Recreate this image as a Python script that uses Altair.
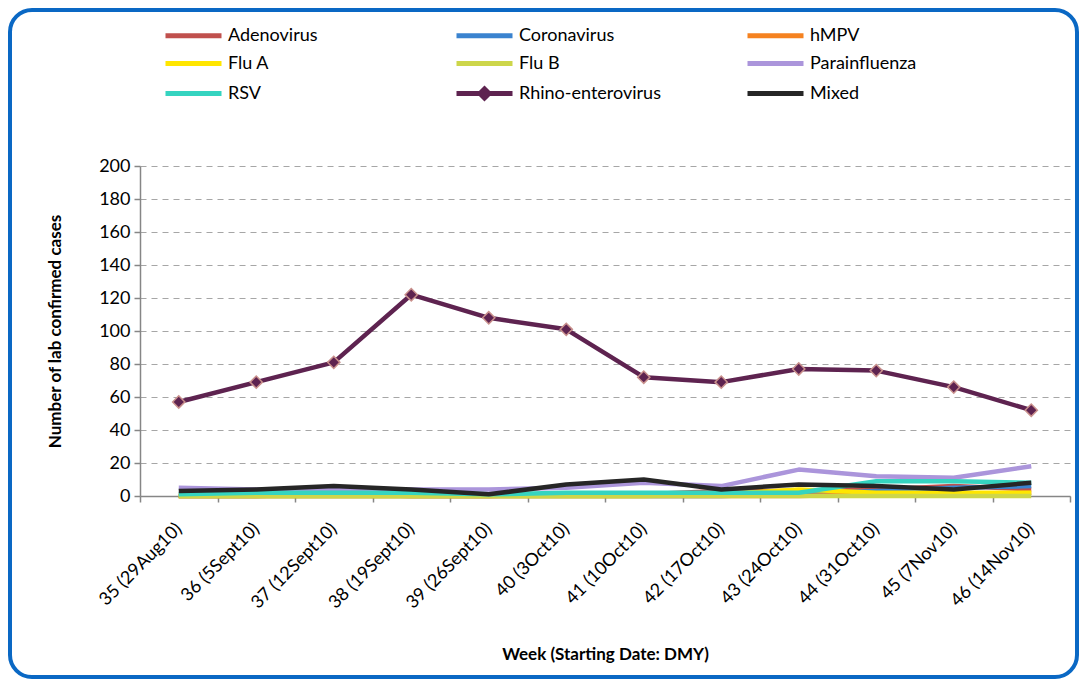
import altair as alt
import pandas as pd

weeks = ["35 (29Aug10)", "36 (5Sept10)", "37 (12Sept10)", "38 (19Sept10)",
         "39 (26Sept10)", "40 (3Oct10)", "41 (10Oct10)", "42 (17Oct10)",
         "43 (24Oct10)", "44 (31Oct10)", "45 (7Nov10)", "46 (14Nov10)"]

series_names = ["Adenovirus", "Coronavirus", "hMPV", "Flu A", "Flu B",
                "Parainfluenza", "RSV", "Rhino-enterovirus", "Mixed"]

series_colors = ["#C0504D", "#3A83CF", "#F58220", "#FFE600", "#CDD64A",
                 "#AB95DB", "#35D4C0", "#5E2350", "#262626"]

adenovirus = [0, 0, 1, 0, 0, 1, 1, 3, 3, 4, 6, 4]
coronavirus = [0, 0, 0, 0, 0, 0, 0, 0, 1, 3, 5, 6]
hmpv = [0, 0, 0, 0, 0, 0, 0, 0, 0, 1, 1, 2]
flu_a = [0, 0, 0, 0, 0, 0, 0, 1, 4, 2, 2, 2]
flu_b = [0, 0, 0, 0, 0, 0, 0, 0, 0, 0, 0, 0]
parainfluenza = [5, 4, 4, 4, 4, 5, 8, 6, 16, 12, 11, 18]
rsv = [1, 2, 2, 2, 1, 2, 2, 2, 2, 9, 9, 8]
rhino = [57, 69, 81, 122, 108, 101, 72, 69, 77, 76, 66, 52]
mixed = [3, 4, 6, 4, 1, 7, 10, 4, 7, 6, 4, 8]

y_ticks = [0, 20, 40, 60, 80, 100, 120, 140, 160, 180, 200]

all_values = [adenovirus, coronavirus, hmpv, flu_a, flu_b,
              parainfluenza, rsv, rhino, mixed]

rows = []
for si, (name, vals) in enumerate(zip(series_names, all_values)):
    for wi, (w, v) in enumerate(zip(weeks, vals)):
        rows.append({"week": w, "series": name, "value": v, "order": si})
df = pd.DataFrame(rows)

LINE_PATH = "M-2.8,0L2.8,0"
legend_shapes = [LINE_PATH] * len(series_names)
legend_shapes[series_names.index("Rhino-enterovirus")] = (
    LINE_PATH + "M0,-0.45L0.45,0L0,0.45L-0.45,0Z")

FONT = "Lato"

x_enc = alt.X(
    "week:N", sort=weeks,
    scale=alt.Scale(type="band", paddingInner=0, paddingOuter=0),
    bandPosition=0.5,
    axis=alt.Axis(
        title="Week (Starting Date: DMY)", labelAngle=-45, labelAlign="right",
        labelBaseline="middle", labelPadding=24, labelFontSize=18,
        labelFont=FONT, labelColor="#000000", tickBand="extent",
        tickSize=6, tickColor="#868686", domainColor="#868686",
        domainWidth=1.5, tickWidth=1.5, grid=False,
        titleFont=FONT, titleFontSize=17, titleFontWeight="bold",
        titleColor="#000000", titleY=150, labelLimit=300,
    ),
)

y_enc = alt.Y(
    "value:Q", scale=alt.Scale(domain=[0, 200], nice=False),
    axis=alt.Axis(
        title="Number of lab confirmed cases", values=y_ticks,
        labelFontSize=18, labelFont=FONT, labelColor="#000000",
        labelPadding=4, tickSize=6, tickColor="#868686",
        domainColor="#868686", domainWidth=1.5, tickWidth=1.5,
        grid=True, gridColor="#A6A6A6", gridDash=[6, 5], gridWidth=1.2,
        titleFont=FONT, titleFontSize=17, titleFontWeight="bold",
        titleColor="#000000", titleX=-76,
    ),
)

base = alt.Chart(df)

lines = base.mark_line(strokeWidth=4.5, strokeJoin="round").encode(
    x=x_enc, y=y_enc,
    color=alt.Color("series:N",
                    scale=alt.Scale(domain=series_names, range=series_colors),
                    legend=None),
    order="order:Q",
    detail="series:N",
)

rhino_pts = base.transform_filter(
    alt.datum.series == "Rhino-enterovirus"
).mark_point(shape="diamond", filled=True, size=150, fill="#5E2350",
             stroke="#C9908C", strokeWidth=1.5, opacity=1).encode(
    x=x_enc, y=y_enc,
)

leg = alt.Legend(
    title=None, orient="none", legendX=41, legendY=-145, columns=3,
    direction="horizontal",
    gridAlign="all", columnPadding=76, rowPadding=1, symbolSize=400,
    symbolStrokeWidth=5, labelFont=FONT, labelFontSize=18,
    labelColor="#000000", labelOffset=22, labelLimit=300,
    symbolFillColor="#5E2350",
)

legend_carrier = base.transform_filter("false").mark_point(
    filled=False, opacity=1, strokeWidth=5
).encode(
    x=x_enc, y=y_enc,
    stroke=alt.Stroke("series:N",
                      scale=alt.Scale(domain=series_names, range=series_colors),
                      legend=leg),
    shape=alt.Shape("series:N",
                    scale=alt.Scale(domain=series_names, range=legend_shapes),
                    legend=leg),
)

frame = alt.Chart(pd.DataFrame({"a": [0]})).mark_rect(
    fill="transparent", stroke="#0A68C4", strokeWidth=4, cornerRadius=22
).encode(
    x=alt.value(-130), x2=alt.value(937),
    y=alt.value(-156), y2=alt.value(511),
)

chart = alt.layer(lines, rhino_pts, legend_carrier, frame).resolve_scale(
    stroke="independent", shape="independent"
).properties(
    width=930, height=330,
    autosize=alt.AutoSizeParams(type="none"),
    padding={"left": 132, "top": 158, "right": 10, "bottom": 186},
    background="white",
).configure_view(stroke=None)

chart.save("out.html", embed_options={"renderer": "svg", "actions": False})
